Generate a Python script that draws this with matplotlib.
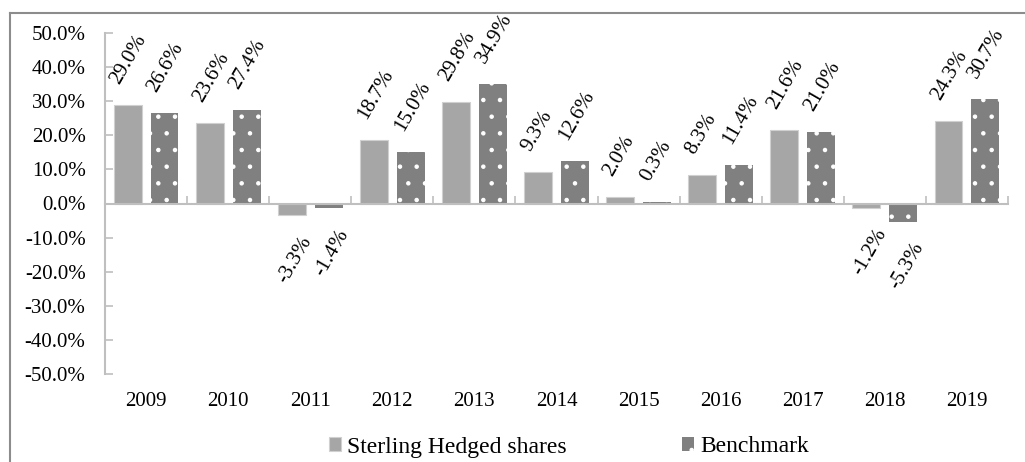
import matplotlib.pyplot as plt
import numpy as np
from matplotlib.lines import Line2D

plt.rcParams['font.family'] = ['Liberation Serif', 'DejaVu Serif']
plt.rcParams['hatch.linewidth'] = 0.8

years = ['2009', '2010', '2011', '2012', '2013', '2014', '2015', '2016', '2017', '2018', '2019']
sterling = [29.0, 23.6, -3.3, 18.7, 29.8, 9.3, 2.0, 8.3, 21.6, -1.2, 24.3]
benchmark = [26.6, 27.4, -1.4, 15.0, 34.9, 12.6, 0.3, 11.4, 21.0, -5.3, 30.7]
series_names = ['Sterling Hedged shares', 'Benchmark']

fs = 15
x = np.arange(len(years))
width = 0.34
off = 0.225

fig = plt.figure(figsize=(10.25, 4.62), dpi=100)
ax = fig.add_axes([105/1025, 1-374/462, 903/1025, 341/462])

b1 = ax.bar(x - off, sterling, width, color='#a6a6a6', edgecolor='#d0d0d0', linewidth=0.8,
            label=series_names[0])
b2 = ax.bar(x + off, benchmark, width, color='#808080', edgecolor='white', linewidth=0,
            hatch='.', label=series_names[1])

# value labels, rotated 60 deg
for bars, vals in ((b1, sterling), (b2, benchmark)):
    for r, v in zip(bars, vals):
        cx = r.get_x() + r.get_width() / 2
        if v >= 0:
            ax.annotate('%.1f%%' % v, (cx, v), xytext=(-8, 20), textcoords='offset pixels',
                        rotation=60, ha='left', va='baseline', rotation_mode='anchor',
                        fontsize=fs, annotation_clip=False)
        else:
            ax.annotate('%.1f%%' % v, (cx, v), xytext=(20, -25), textcoords='offset pixels',
                        rotation=60, ha='right', va='baseline', rotation_mode='anchor',
                        fontsize=fs, annotation_clip=False)

ax.set_xlim(-0.5, len(years) - 0.5)
ax.set_ylim(-50, 50)
yt = np.arange(-50, 51, 10)
ax.set_yticks(yt)
ax.set_yticklabels(['%.1f%%' % t for t in yt])

ax.set_xticks(x)
ax.set_xticklabels(years)
ax.set_xticks(np.arange(-0.5, len(years), 1), minor=True)
ax.tick_params(axis='x', which='major', length=0, pad=136, labelsize=fs)
ax.tick_params(axis='x', which='minor', direction='in', length=6, color='#bfbfbf', width=1.2)
ax.tick_params(axis='y', direction='in', length=6, color='#bfbfbf', width=1.2, pad=14,
               labelsize=fs)

for s in ('top', 'right'):
    ax.spines[s].set_visible(False)
ax.spines['bottom'].set_position(('data', 0))
ax.spines['bottom'].set_color('#bfbfbf')
ax.spines['bottom'].set_linewidth(1.5)
ax.spines['left'].set_color('#bfbfbf')
ax.spines['left'].set_linewidth(1.5)

fig.legend(loc='center', bbox_to_anchor=(569/1025, 1-447/462), ncol=2, frameon=False,
           fontsize=17, handlelength=0.5, handleheight=0.5, handletextpad=0.25,
           columnspacing=4.9)

# outer chart border (top and left visible)
fig.add_artist(Line2D([10/1025, 10/1025], [0, 1-13/462], transform=fig.transFigure,
                      color='#8c8c8c', lw=1.5))
fig.add_artist(Line2D([10/1025, 1], [1-13/462, 1-13/462], transform=fig.transFigure,
                      color='#8c8c8c', lw=1.5))

fig.savefig('out.png', dpi=100)
